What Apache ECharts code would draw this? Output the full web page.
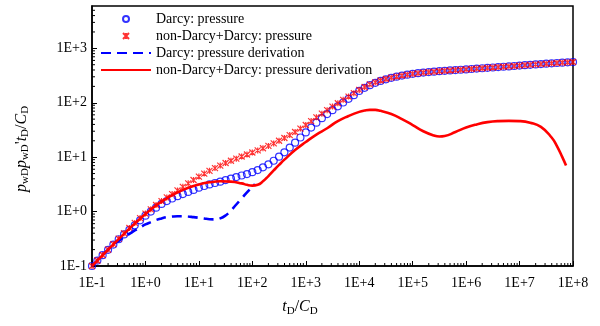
<!DOCTYPE html>
<html><head><meta charset="utf-8">
<script src="https://cdn.jsdelivr.net/npm/echarts@6/dist/echarts.min.js"></script>
<style>html,body{margin:0;padding:0;background:#fff}#c{width:600px;height:326px}</style>
</head><body><div id="c"></div>
<script>
// x values (tD/CD), 10 per decade
const tD = [
 1e-1,1.26e-1,1.58e-1,2e-1,2.51e-1,3.16e-1,3.98e-1,5.01e-1,6.31e-1,7.94e-1,
 1e0,1.26e0,1.58e0,2e0,2.51e0,3.16e0,3.98e0,5.01e0,6.31e0,7.94e0,
 1e1,1.26e1,1.58e1,2e1,2.51e1,3.16e1,3.98e1,5.01e1,6.31e1,7.94e1,
 1e2,1.26e2,1.58e2,2e2,2.51e2,3.16e2,3.98e2,5.01e2,6.31e2,7.94e2,
 1e3,1.26e3,1.58e3,2e3,2.51e3,3.16e3,3.98e3,5.01e3,6.31e3,7.94e3,
 1e4,1.26e4,1.58e4,2e4,2.51e4,3.16e4,3.98e4,5.01e4,6.31e4,7.94e4,
 1e5,1.26e5,1.58e5,2e5,2.51e5,3.16e5,3.98e5,5.01e5,6.31e5,7.94e5,
 1e6,1.26e6,1.58e6,2e6,2.51e6,3.16e6,3.98e6,5.01e6,6.31e6,7.94e6,
 1e7,1.26e7,1.58e7,2e7,2.51e7,3.16e7,3.98e7,5.01e7,6.31e7,7.94e7,
 1e8];
const darcyP = [
 0.100,0.126,0.158,0.198,0.248,0.31,0.38,0.46,0.56,0.69,
 0.84,1.0,1.18,1.38,1.56,1.74,1.92,2.1,2.3,2.5,
 2.75,2.95,3.15,3.35,3.55,3.8,4.05,4.3,4.6,4.9,
 5.3,5.8,6.5,7.4,8.6,10.2,12.3,15,18.5,23,
 28.5,35,43,52,62,73,86,101,118,138,
 165,188,210,232,252,270,287,302,316,328,
 340,350,358,366,373,380,386,392,398,404,
 410,417,424,431,438,445,452,459,466,474,
 482,490,498,506,514,522,530,538,546,553,
 560];
const nonDarcyP = [
 0.100,0.126,0.159,0.200,0.252,0.318,0.40,0.50,0.62,0.76,
 0.92,1.10,1.32,1.56,1.82,2.1,2.45,2.85,3.3,3.8,
 4.4,5.0,5.6,6.3,7.0,7.8,8.6,9.4,10.3,11.2,
 12.2,13.3,14.6,16.1,17.9,20,22.5,25.5,29,33.5,
 39,46,54,63,73,85,98,113,130,150,
 172,195,217,237,256,273,289,303,316,328,
 340,350,358,366,373,380,386,392,398,404,
 410,417,424,431,438,445,452,459,466,474,
 482,490,498,506,514,522,530,538,546,553,
 560];
// Darcy derivative (dashed)
const darcyDerivT = [0.1,0.158,0.251,0.316,0.398,0.501,0.631,0.794,1,1.26,1.58,2,2.51,3.16,3.98,5.01,6.31,7.94,10,12.6,15.8,20,25.1,31.6,39.8,50.1,63.1,79.4,100,112];
const darcyDeriv  = [0.1,0.158,0.245,0.29,0.34,0.39,0.45,0.51,0.58,0.64,0.70,0.75,0.79,0.81,0.82,0.82,0.81,0.79,0.77,0.745,0.725,0.72,0.75,0.85,1.05,1.35,1.75,2.25,2.85,3.2];
// non-Darcy + Darcy derivative (solid)
const nonDarcyDerivT = [0.1,0.158,0.251,0.398,0.631,1,1.58,2.51,3.98,6.31,10,15.8,25.1,39.8,63.1,79.4,100,126,158,200,251,316,398,631,1000,1580,2510,3980,6310,1e4,1.26e4,1.58e4,2e4,2.51e4,3.98e4,6.31e4,1e5,1.58e5,2.51e5,3.16e5,3.98e5,6.31e5,1e6,1.58e6,2.51e6,3.98e6,6.31e6,1e7,1.58e7,2.51e7,3.98e7,5.01e7,6.31e7,7.41e7];
const nonDarcyDeriv  = [0.1,0.158,0.25,0.39,0.6,0.9,1.3,1.75,2.25,2.75,3.15,3.45,3.6,3.55,3.3,3.1,3.0,3.1,3.6,4.5,5.7,7.2,9.0,13.5,19,26,34,46,57,68,72,74,74,71,62,50,39,30,25,24,24.5,29,35,40,44,46,46.5,46,43,36,23,16,10,7];
const xTickLabels = ['1E-1','1E+0','1E+1','1E+2','1E+3','1E+4','1E+5','1E+6','1E+7','1E+8'];
const yTickLabels = ['1E-1','1E+0','1E+1','1E+2','1E+3'];
const legendNames = ['Darcy: pressure','non-Darcy+Darcy: pressure','Darcy: pressure derivation','non-Darcy+Darcy: pressure derivation'];

const XMIN = 0.1, XMAX = 1e8, YMIN = 0.1, YMAX = 6000;
const FONT = 'Liberation Serif, Times New Roman, serif';
const BLUE = '#0000ff', RED = '#ff0000';

function lbl(v, list){
  const e = Math.log10(v); const r = Math.round(e);
  if (Math.abs(e - r) > 0.01) return '';
  const s = '1E' + (r < 0 ? '-' : '+') + Math.abs(r);
  return list.indexOf(s) >= 0 ? s : '';
}
// minor tick positions (2..9 x 10^k)
const xMinor = [], yMinor = [];
for (let k = -1; k < 8; k++) for (let m = 2; m <= 9; m++) xMinor.push([m * Math.pow(10, k), YMIN]);
for (let k = -1; k < 4; k++) for (let m = 2; m <= 9; m++) { const v = m * Math.pow(10, k); if (v < YMAX) yMinor.push([XMIN, v]); }

const zip = (a, b) => a.map((v, i) => [v, b[i]]);
const hideDot = {color: 'rgba(0,0,0,0)', borderColor: 'rgba(0,0,0,0)', borderWidth: 0};
const rich = {
  i: {fontFamily: FONT, fontStyle: 'italic', fontSize: 16, lineHeight: 19, fill: '#000'},
  n: {fontFamily: FONT, fontSize: 16, lineHeight: 19, fill: '#000'},
  s: {fontFamily: FONT, fontSize: 11, lineHeight: 11, verticalAlign: 'bottom', fill: '#000'}
};
const chart = echarts.init(document.getElementById('c'), null, {renderer: 'canvas'});
chart.setOption({
  animation: false,
  backgroundColor: '#fff',
  grid: {left: 92, right: 27, top: 6, bottom: 60, show: true, borderColor: '#000', borderWidth: 1.5, backgroundColor: 'transparent'},
  xAxis: {type: 'log', min: XMIN, max: XMAX, interval: 1, logBase: 10,
    axisLine: {lineStyle: {color: '#000', width: 1.5}},
    axisTick: {inside: true, length: 5, lineStyle: {color: '#000', width: 1}},
    splitLine: {show: false},
    axisLabel: {margin: 10, color: '#000', fontFamily: FONT, fontSize: 14, formatter: v => lbl(v, xTickLabels)}},
  yAxis: {type: 'log', min: YMIN, max: YMAX, interval: 1, logBase: 10,
    axisLine: {lineStyle: {color: '#000', width: 1.5}},
    axisTick: {inside: true, length: 5, lineStyle: {color: '#000', width: 1}},
    splitLine: {show: false},
    axisLabel: {margin: 5, color: '#000', fontFamily: FONT, fontSize: 14, showMaxLabel: false, formatter: v => lbl(v, yTickLabels)}},
  legend: {
    orient: 'vertical', left: 95, top: 7, itemWidth: 50, itemHeight: 6, itemGap: 3,
    textStyle: {fontFamily: FONT, fontSize: 14, color: '#000'},
    data: [
      {name: legendNames[0]},
      {name: legendNames[1]},
      {name: legendNames[2], itemStyle: hideDot},
      {name: legendNames[3], itemStyle: hideDot}
    ]
  },
  graphic: [
    {type: 'text', left: 'center', top: 299, style: {text: '{i|t}{s|D}{n|/}{i|C}{s|D}', rich: rich}},
    {type: 'text', x: 12, y: 192, rotation: Math.PI / 2, style: {
      text: '{i|p}{s|wD}{i|p}{s|wD}{n|\'}{i|t}{s|D}{n|/}{i|C}{s|D}', rich: rich}}
  ],
  series: [
    {name: legendNames[0], type: 'scatter', data: zip(tD, darcyP), symbol: 'circle', symbolSize: 7,
      itemStyle: {color: 'rgba(0,0,0,0)', borderColor: BLUE, borderWidth: 1.2}, z: 3},
    {name: legendNames[1], type: 'scatter', data: zip(tD, nonDarcyP),
      symbol: 'path://M0,0L10,10M10,0L0,10M5,0L5,10', symbolSize: 6,
      itemStyle: {color: 'rgba(0,0,0,0)', borderColor: RED, borderWidth: 1.2}, z: 4},
    {name: legendNames[2], type: 'line', data: zip(darcyDerivT, darcyDeriv), symbol: 'none', smooth: true,
      lineStyle: {color: BLUE, width: 2.6, type: [10, 6]}, itemStyle: {color: BLUE}, z: 5},
    {name: legendNames[3], type: 'line', data: zip(nonDarcyDerivT, nonDarcyDeriv), symbol: 'none', smooth: true,
      lineStyle: {color: RED, width: 2.6}, itemStyle: {color: RED}, z: 6},
    {type: 'custom', silent: true, clip: false, data: xMinor, z: 10,
      renderItem: (p, api) => { const c = api.coord([api.value(0), YMIN]);
        return {type: 'line', shape: {x1: c[0], y1: c[1], x2: c[0], y2: c[1] - 3}, style: {stroke: '#000', lineWidth: 1}}; }},
    {type: 'custom', silent: true, clip: false, data: yMinor, z: 10,
      renderItem: (p, api) => { const c = api.coord([XMIN, api.value(1)]);
        return {type: 'line', shape: {x1: c[0], y1: c[1], x2: c[0] + 3, y2: c[1]}, style: {stroke: '#000', lineWidth: 1}}; }}
  ]
});
</script></body></html>
